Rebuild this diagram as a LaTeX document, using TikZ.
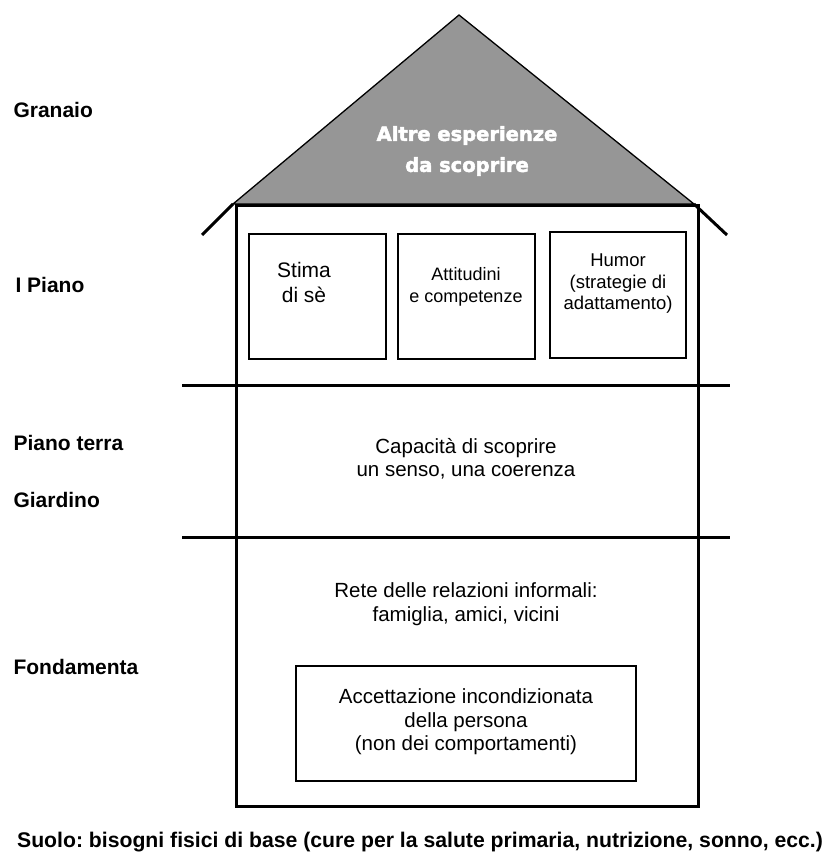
\documentclass[tikz,border=0pt]{standalone}
\usepackage{fontspec}
\setmainfont{Liberation Sans}
\newfontfamily\heavyfont{DejaVu Sans}[FakeBold=2.5]
\frenchspacing
\begin{document}
\begin{tikzpicture}[x=1pt,y=-1pt,
  thickline/.style={line width=3pt},
  thinline/.style={line width=1.3pt},
  roomtext/.style={align=center,font=\fontsize{20.5}{23.5}\selectfont},
  sidelabel/.style={anchor=west,font=\fontsize{21}{24}\selectfont\bfseries},
  rooftext/.style={align=center,text=white,font=\fontsize{19.5}{31}\selectfont\heavyfont\bfseries}]
\useasboundingbox[fill=white] (0,0) rectangle (830,864);
% roof
\coordinate (apex) at (459,15);
\coordinate (rl) at (233,204);
\coordinate (rr) at (694,204);
\coordinate (el) at (202,235);
\coordinate (er) at (727,235);
\filldraw[fill=black!41,thinline,line join=miter] (rl) -- (apex) -- (rr) -- cycle;
\draw[thickline] (rl) -- (el);
\draw[thickline] (rr) -- (er);
\node[rooftext] (roof) at (467,151) {Altre esperienze\\da scoprire};
% house body
\draw[thickline] (236,205) rectangle (698,806);
\coordinate (f1l) at (182,385);
\coordinate (f1r) at (730,385);
\coordinate (f2l) at (182,537);
\coordinate (f2r) at (730,537);
\draw[thickline] (f1l) -- (f1r);
\draw[thickline] (f2l) -- (f2r);
% first floor rooms
\draw[thinline] (249,234) rectangle (386,359);
\draw[thinline] (398,234) rectangle (535,359);
\draw[thinline] (550,232) rectangle (686,358);
\node[roomtext,font=\fontsize{21}{25}\selectfont] (stima) at (304,282) {Stima\\di sè};
\node[roomtext,font=\fontsize{18}{22}\selectfont] (att) at (466,287) {Attitudini\\e competenze};
\node[roomtext,font=\fontsize{18.5}{21.5}\selectfont] (humor) at (618,284) {Humor\\(strategie di\\adattamento)};
% ground floor
\node[roomtext] (cap) at (466,459) {Capacità di scoprire\\un senso, una coerenza};
% foundation
\node[roomtext] (rete) at (466,604) {Rete delle relazioni informali:\\famiglia, amici, vicini};
\draw[thinline] (296,666) rectangle (636,781);
\node[roomtext] (acc) at (466,722) {Accettazione incondizionata\\della persona\\(non dei comportamenti)};
% side labels
\node[sidelabel] (gran) at (10,110) {Granaio};
\node[sidelabel] (ip) at (12,285) {I Piano};
\node[sidelabel] (pt) at (10,443) {Piano terra};
\node[sidelabel] (gia) at (10,500) {Giardino};
\node[sidelabel] (fond) at (10,667) {Fondamenta};
\node[anchor=center,font=\fontsize{21.2}{24}\selectfont\bfseries] (suolo) at (420,842) {Suolo: bisogni fisici di base (cure per la salute primaria, nutrizione, sonno, ecc.)};
\end{tikzpicture}
\end{document}
